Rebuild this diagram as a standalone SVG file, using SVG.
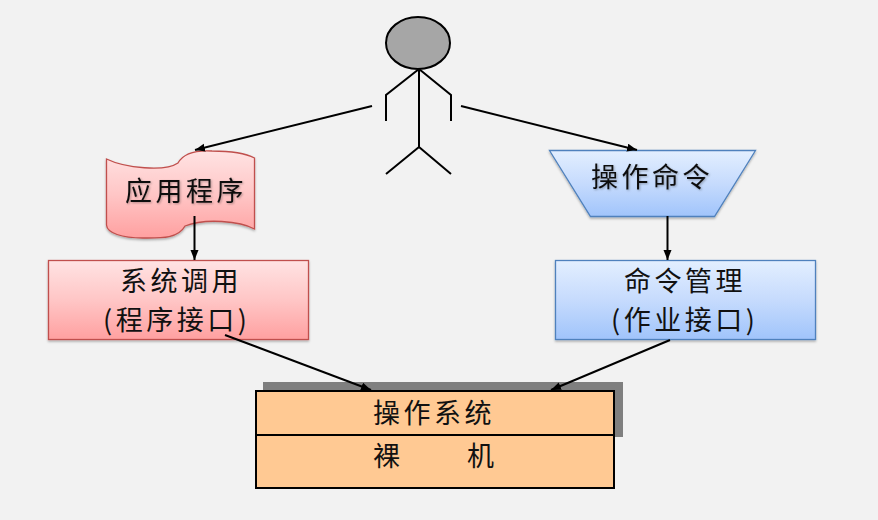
<svg xmlns="http://www.w3.org/2000/svg" width="878" height="520" viewBox="0 0 878 520">
<style>
.t{font-family:"Noto Sans CJK SC","Noto Sans CJK TC",sans-serif;font-size:27px;fill:#111;letter-spacing:3.5px}
.ln{fill:none;stroke:#000;stroke-width:2}
.c{stroke:#000;stroke-width:2;fill:none;marker-end:url(#a)}
.red{stroke:#c0504d;stroke-width:1.3;filter:url(#sh)}
.blue{stroke:#4f81bd;stroke-width:1.3;filter:url(#sh)}
</style>
<defs>
<marker id="a" markerUnits="userSpaceOnUse" markerWidth="11" markerHeight="9" refX="10" refY="4" orient="auto"><path d="M0 0L10 4L0 8Z" fill="#000"/></marker>
<linearGradient id="r" x1="0" y1="0" x2="0" y2="1"><stop offset="0" stop-color="#ffe3e3"/><stop offset="0.5" stop-color="#ffc6c6"/><stop offset="1" stop-color="#ffa0a0"/></linearGradient>
<linearGradient id="b" x1="0" y1="0" x2="0" y2="1"><stop offset="0" stop-color="#e3efff"/><stop offset="0.5" stop-color="#c6dbfd"/><stop offset="1" stop-color="#a0c4fb"/></linearGradient>
<filter id="sh" x="-5%" y="-5%" width="110%" height="115%"><feDropShadow dx="0" dy="1.5" stdDeviation="1" flood-color="#000" flood-opacity="0.3"/></filter>
<filter id="ts" x="-5%" y="-10%" width="110%" height="125%"><feDropShadow dx="1" dy="1" stdDeviation="1" flood-color="#000" flood-opacity="0.3"/></filter>
</defs>
<rect width="878" height="520" fill="#f2f2f2"/>
<g id="person">
<ellipse cx="418" cy="43" rx="32" ry="26" fill="#a6a6a6" stroke="#000" stroke-width="2"/>
<path class="ln" d="M419 69V147M419 69L386 95V121M419 69L451 95V121M419 147L386 174M419 147L451 174"/>
</g>
<g id="app">
<path class="red" fill="url(#r)" d="M106.500 159C125 168 165 172 178 163C183 154 195 150 212 151C232 151 247 154 254.500 158V229C240 221 205 218 185 226C178 239 160 238 143 238C122 238 107 233 106.500 225Z"/>
<text class="t" x="125" y="201" filter="url(#ts)">应用程序</text>
</g>
<g id="cmd">
<path class="blue" fill="url(#b)" d="M549.500 150.500H755.500L714.500 216.500H590.500Z"/>
<text class="t" x="591" y="187" filter="url(#ts)">操作命令</text>
</g>
<g id="syscall">
<rect class="red" fill="url(#r)" x="48.500" y="260.500" width="260" height="79"/>
<text class="t" x="120" y="291">系统调用</text>
<text class="t" x="103" y="330">(程序接口)</text>
</g>
<g id="cmdmgr">
<rect class="blue" fill="url(#b)" x="555.500" y="260.500" width="260" height="79"/>
<text class="t" x="624" y="291">命令管理</text>
<text class="t" x="611" y="330">(作业接口)</text>
</g>
<g id="os">
<rect x="263" y="382" width="360" height="55" fill="#7f7f7f"/>
<rect x="256" y="391" width="358" height="44" fill="#ffc993" stroke="#000" stroke-width="2"/>
<text class="t" x="373" y="423">操作系统</text>
</g>
<g id="hw">
<rect x="256" y="435" width="358" height="53" fill="#ffc993" stroke="#000" stroke-width="2"/>
<text class="t" x="373" y="466">裸</text>
<text class="t" x="467" y="466">机</text>
</g>
<g id="connectors">
<path class="c" d="M372 106L195 150"/>
<path class="c" d="M461 106L637 150"/>
<path class="c" d="M194.500 216V260"/>
<path class="c" d="M667.500 216V260"/>
<path class="c" d="M225 335L371 390"/>
<path class="c" d="M670 340L551 390"/>
</g>
</svg>
